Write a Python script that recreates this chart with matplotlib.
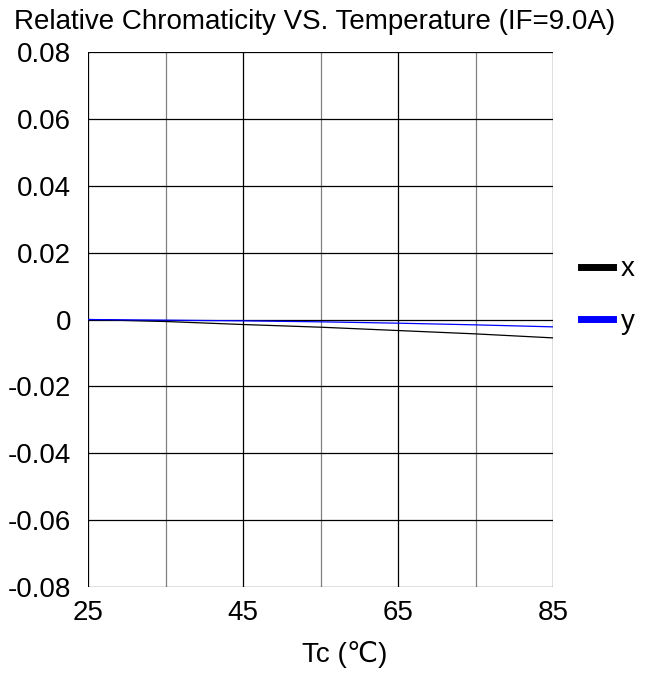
import matplotlib
matplotlib.use("Agg")
from matplotlib import pyplot as plt

# data
temps = [25, 35, 45, 55, 65, 75, 85]
cx = [0.0, -0.0006, -0.0015, -0.0023, -0.0033, -0.0043, -0.0055]
cy = [0.0, -0.0002, -0.0004, -0.0007, -0.0011, -0.0016, -0.0022]
yticks = [0.08, 0.06, 0.04, 0.02, 0, -0.02, -0.04, -0.06, -0.08]
ylabels = ["0.08", "0.06", "0.04", "0.02", "0", "-0.02", "-0.04", "-0.06", "-0.08"]
xticks = [25, 45, 65, 85]

plt.rcParams['font.family'] = ['Liberation Sans', 'DejaVu Sans']

fig = plt.figure(figsize=(6.51, 6.86), dpi=100)
ax = fig.add_axes([88/651, 1-587/686, (553-88)/651, (587-52)/686])

# grid: black at 25/45/65/85, gray in between
for t in temps:
    col = "black" if (t - 25) % 20 == 0 else "#808080"
    ax.axvline(t, color=col, lw=0.9, zorder=1)
for v in yticks:
    ax.axhline(v, color="black", lw=0.9, zorder=1)

ax.plot(temps, cx, color="black", lw=0.9, label="x", zorder=3)
ax.plot(temps, cy, color="#0000ff", lw=0.9, label="y", zorder=4)

ax.set_xlim(25, 85)
ax.set_ylim(-0.08, 0.08)
ax.set_xticks(xticks)
ax.set_xticklabels([str(t) for t in xticks], fontsize=20)
ax.set_yticks(yticks)
ax.set_yticklabels(ylabels, fontsize=20)
ax.tick_params(axis="x", length=0, pad=9)
ax.tick_params(axis="y", length=0, pad=12)
for s in ax.spines.values():
    s.set_visible(False)

fig.text(345/651, 1-655/686, "Tc (℃)", ha="center", va="center", fontsize=20)
fig.text(315/651, 1-22/686, "Relative Chromaticity VS. Temperature (IF=9.0A)",
         ha="center", va="center", fontsize=20)

leg = ax.legend(loc="center left", bbox_to_anchor=(1.0, 0.545), frameon=False,
                fontsize=20, handlelength=1.15, handletextpad=0.3,
                labelspacing=0.95, borderaxespad=0.6)
for h in leg.get_lines():
    h.set_linewidth(5)

fig.savefig("out.png", dpi=100)
